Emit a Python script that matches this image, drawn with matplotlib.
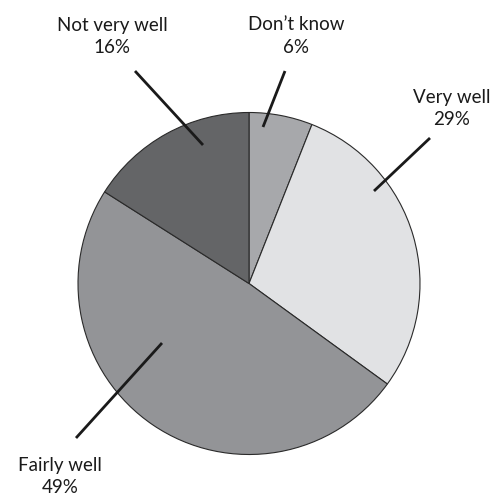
import matplotlib
matplotlib.use("Agg")
import matplotlib.pyplot as plt

# Survey responses, clockwise from 12 o'clock
categories = ["Don\u2019t know", "Very well", "Fairly well", "Not very well"]
shares = [6, 29, 49, 16]
colors = ["#a7a8ab", "#e1e2e4", "#939497", "#646567"]

W, H = 500, 495
fig = plt.figure(figsize=(W / 100, H / 100), dpi=100)
ax = fig.add_axes([0, 0, 1, 1])

def py(y):
    # image-style y (top = 0) to axes y
    return H - y

cx, cy, r = 249, py(283.5), 171
ax.pie(shares, colors=colors, startangle=90, counterclock=False,
       center=(cx, cy), radius=r, frame=True,
       wedgeprops=dict(edgecolor="#2a2a2a", linewidth=0.8))
ax.set_xlim(0, W)
ax.set_ylim(0, H)
ax.set_aspect("equal")
ax.axis("off")

family = "Lato"
fs = 13.5

# label text centre (x, y of first line) and leader line (inner -> outer)
label_layout = {
    "Don\u2019t know": ((296, 25), (263, 127), (285, 71)),
    "Very well": ((452, 97), (374, 191), (430, 138)),
    "Fairly well": ((60, 465), (162, 343), (76, 438)),
    "Not very well": ((112, 25), (203, 145), (135, 71)),
}

for name, pct in zip(categories, shares):
    (tx, ty), (x0, y0), (x1, y1) = label_layout[name]
    ax.plot([x0, x1], [py(y0), py(y1)], color="#1a1a1a", lw=2.0,
            solid_capstyle="butt")
    ax.text(tx, py(ty), name, ha="center", va="center", fontsize=fs,
            family=family, color="#1a1a1a")
    ax.text(tx, py(ty + 22.5), f"{pct}%", ha="center", va="center",
            fontsize=fs, family=family, color="#1a1a1a")

fig.savefig("out.png", dpi=100, facecolor="white")
